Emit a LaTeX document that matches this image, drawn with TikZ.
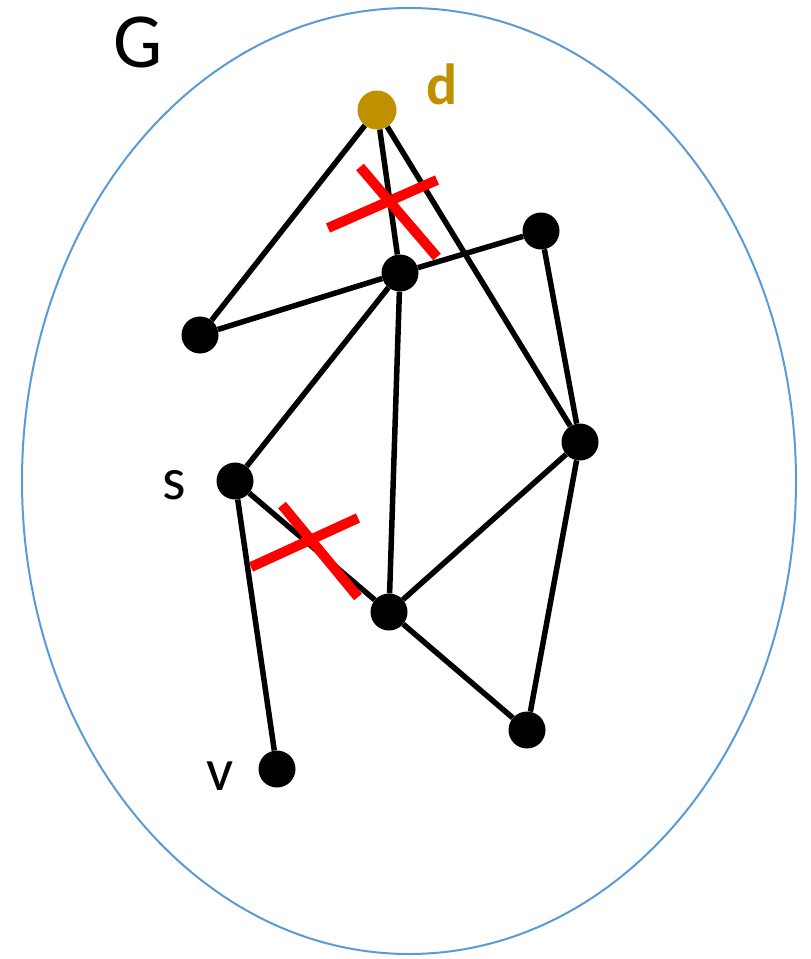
\documentclass[tikz,border=0pt]{standalone}
\usepackage{fontspec}
\setmainfont{Carlito}
\usetikzlibrary{positioning}
\definecolor{dest}{RGB}{191,144,0}
\definecolor{border}{RGB}{91,155,213}
\definecolor{cut}{RGB}{255,0,0}

\begin{document}
\begin{tikzpicture}[
    x=1pt, y=-1pt,
    vertex/.style={circle, fill=black, inner sep=0pt, minimum size=37pt},
    dest_vertex/.style={vertex, fill=dest, minimum size=39pt},
    edge/.style={-, line width=5.5pt, black},
    cut_mark/.style={line width=10pt, cut},
    lbl/.style={font=\fontsize{60}{60}\selectfont},
]
\useasboundingbox (0,0) rectangle (811,959);

% Graph border
\draw[border, line width=2pt] (409,481) ellipse [x radius=387, y radius=473];
\node[font=\fontsize{78}{78}\selectfont] (glabel) at (138,42) {G};

% Vertices
\node[dest_vertex] (d) at (377,110) {};
\node[vertex] (a) at (541,231) {};
\node[vertex] (c) at (400,273) {};
\node[vertex] (b) at (200,335) {};
\node[vertex] (r) at (580,442) {};
\node[vertex] (s) at (235,481) {};
\node[vertex] (m) at (389,612) {};
\node[vertex] (e) at (527,730) {};
\node[vertex] (v) at (277,769) {};

% Labels
\node[text=dest, font=\fontsize{58}{58}\selectfont\bfseries] (dlabel) at (442,84) {d};
\node[lbl] (slabel) at (174,485) {s};
\node[lbl] (vlabel) at (220,776) {v};

% Edges
\draw[edge] (d) -- (b);
\draw[edge] (d) -- (c);
\draw[edge] (d) -- (r);
\draw[edge] (c) -- (a);
\draw[edge] (c) -- (b);
\draw[edge] (c) -- (s);
\draw[edge] (c) -- (m);
\draw[edge] (a) -- (r);
\draw[edge] (r) -- (m);
\draw[edge] (r) -- (e);
\draw[edge] (s) -- (m);
\draw[edge] (s) -- (v);
\draw[edge] (m) -- (e);

% Removed edges
\draw[cut_mark] (360,167) -- (437,257);
\draw[cut_mark] (328,228) -- (437,180);
\draw[cut_mark] (282,505) -- (358,597);
\draw[cut_mark] (251,567) -- (358,518);

\end{tikzpicture}
\end{document}
